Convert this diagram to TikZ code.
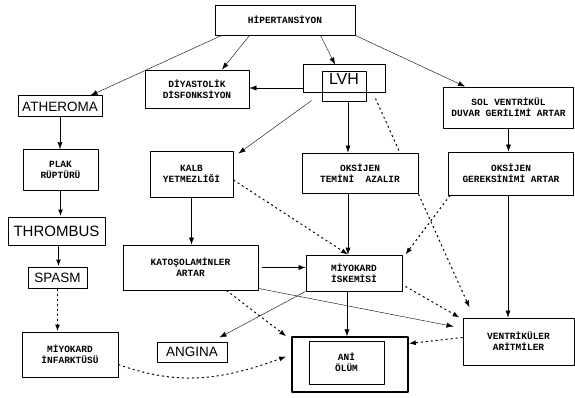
\documentclass[tikz,border=0pt]{standalone}
\usepackage{fontspec}
\newfontfamily\boxfont{Liberation Mono}
\newfontfamily\bigfont{Liberation Sans}
\usetikzlibrary{arrows.meta,calc,backgrounds}
\tikzset{
  box/.style={draw,fill=white,line width=0.9pt,inner sep=2pt,align=center,
    font=\boxfont\bfseries\fontsize{9.5}{11}\selectfont},
  bigbox/.style={draw,fill=white,line width=1pt,inner sep=2pt,
    font=\bigfont\fontsize{13.5}{14}\selectfont},
  dotline/.style={dash pattern=on 2pt off 3pt,line width=1pt},
  thickline/.style={line width=1.6pt},
}
\begin{document}
\begin{tikzpicture}[x=1pt,y=1pt,>={Latex[length=7pt,width=5pt]},line join=round]
\useasboundingbox (0,0) rectangle (575,397);
% boxes
\node[box,minimum width=140pt,minimum height=30pt] (hip) at (285,377) {HİPERTANSİYON};
\node[box,minimum width=104pt,minimum height=38pt] (diy) at (197,308) {DİYASTOLİK\\DİSFONKSİYON};
\node[bigbox,minimum width=82pt,minimum height=28pt,font=\bigfont\fontsize{16}{16}\selectfont] (lvhout) at (344,318) {LVH};
\node[draw,line width=1pt,minimum width=44pt,minimum height=30pt] (lvhin) at (344,310) {};
\node[box,minimum width=130pt,minimum height=41pt] (solv) at (508.5,289.5) {SOL VENTRİKÜL\\DUVAR GERİLİMİ ARTAR};
\node[bigbox,minimum width=84pt,minimum height=21pt] (ath) at (60,290.5) {ATHEROMA};
\node[box,minimum width=75pt,minimum height=41pt] (plak) at (60.5,227) {PLAK\\RÜPTÜRÜ};
\node[box,minimum width=83pt,minimum height=46pt] (kalb) at (191.5,223) {KALB\\YETMEZLİĞİ};
\node[box,minimum width=116pt,minimum height=40pt] (oktem) at (360,224) {OKSİJEN\\TEMİNİ\ \ AZALIR};
\node[box,minimum width=125pt,minimum height=43pt] (okger) at (511,223.5) {OKSİJEN\\GEREKSİNİMİ ARTAR};
\node[bigbox,minimum width=97pt,minimum height=28pt,font=\bigfont\fontsize{15}{15}\selectfont] (thr) at (56.5,166) {THROMBUS};
\node[bigbox,minimum width=59pt,minimum height=21pt] (spasm) at (57.5,119.5) {SPASM};
\node[box,minimum width=135pt,minimum height=45pt] (kat) at (190.5,129.5) {KATOŞOLAMİNLER\\ARTAR};
\node[box,minimum width=96pt,minimum height=36pt] (isk) at (354,124) {MİYOKARD\\İSKEMİSİ};
\node[box,minimum width=96pt,minimum height=45pt] (inf) at (70,42.5) {MİYOKARD\\İNFARKTÜSÜ};
\node[bigbox,minimum width=70pt,minimum height=20pt] (ang) at (192,45) {ANGINA};
\node[draw,fill=white,line width=1.6pt,minimum width=116pt,minimum height=55pt] (aniout) at (350,32.5) {};
\node[box,minimum width=75pt,minimum height=43pt] (aniin) at (346.5,34.5) {ANİ\\ÖLÜM};
\node[box,minimum width=111pt,minimum height=47pt] (ven) at (518.5,55.5) {VENTRİKÜLER\\ARİTMİLER};
% connectors
\begin{scope}[on background layer,line width=0.9pt]
\draw[->] ([xshift=7pt]hip.south west) -- ([xshift=-12pt]ath.north east);
\draw[->] ([xshift=35pt]hip.south west) -- ([xshift=25pt]diy.north);
\draw[->] ([xshift=-35pt]hip.south east) -- ([xshift=-9pt]lvhout.north);
\draw[->] (hip.south east) -- ([xshift=22pt]solv.north west);
\draw[->] ([yshift=-9pt]lvhout.west) -- ([yshift=-9pt]lvhout.west -| diy.east);
\draw[->] ([xshift=9pt,yshift=-7pt]lvhout.south west) -- ([xshift=5pt,yshift=-3pt]kalb.north east);
\draw[->] ([xshift=4pt]lvhin.south) -- ([xshift=-12pt]oktem.north);
\draw[dotline,->] ([xshift=-10pt,yshift=-5pt]lvhout.south east) -- ([xshift=7pt,yshift=10pt]ven.north west);
\draw[->] (solv.south) -- (solv.south |- okger.north);
\draw[->] ([xshift=-3pt]okger.south) -- ([xshift=-3pt]okger.south |- ven.north);
\draw[dotline,->] ([xshift=2pt]okger.south west) -- ([xshift=3pt]isk.north east);
\draw[->] ([xshift=-12pt]oktem.south) -- ([xshift=-12pt]oktem.south |- isk.north);
\draw[dotline,->] ([yshift=-6pt]kalb.east) -- ([xshift=-6pt]isk.north);
\draw[->] (kalb.south) -- (kalb.south |- kat.north);
\draw[->,shorten <=4pt] (kat.east) -- (kat.east -| isk.west);
\draw[->] ([yshift=2pt]kat.south east) -- ([xshift=-9pt,yshift=15pt]ven.west);
\draw[->] (isk.south west) -- ([xshift=-8pt,yshift=4pt]ang.north east);
\draw[dotline,->] ([xshift=36pt]kat.south) -- ([xshift=-5pt]aniout.north west);
\draw[->] ([xshift=-7pt]isk.south) -- ([xshift=-7pt]isk.south |- aniout.north);
\draw[dotline,->] ([xshift=3pt,yshift=5pt]isk.south east) -- ([xshift=-3pt]ven.north west);
\draw[dotline,->] ([yshift=4pt]ven.west) -- ([yshift=21pt]aniout.east);
\draw[dotline,->] ([yshift=-10pt]inf.east) to[out=-20,in=200] ([xshift=-5pt,yshift=8pt]aniout.west);
% left column
\draw[->] (ath.south) -- (ath.south |- plak.north);
\draw[thickline,->] (plak.south) -- (plak.south |- thr.north);
\draw[thickline,->] ([xshift=2pt]thr.south) -- ([xshift=2pt]thr.south |- spasm.north);
\draw[dotline,thickline,->] (spasm.south) -- (spasm.south |- inf.north);
\end{scope}
\end{tikzpicture}
\end{document}
